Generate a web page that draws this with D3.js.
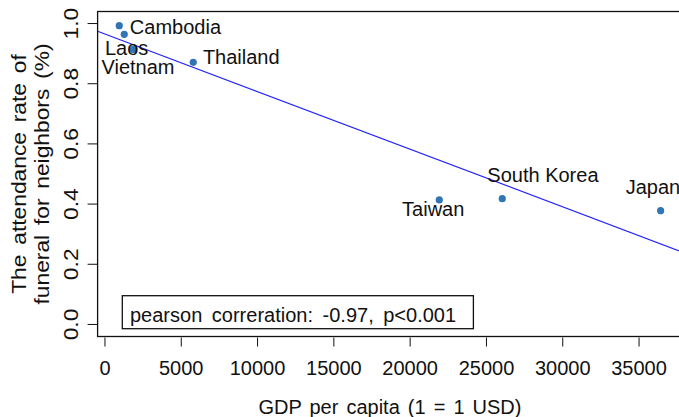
<!DOCTYPE html>
<html>
<head>
<meta charset="utf-8">
<script src="https://cdn.jsdelivr.net/npm/d3@7"></script>
<style>
  body { margin: 0; background: #fff; }
  svg text { font-family: "Liberation Sans", Arial, sans-serif; fill: #111; }
</style>
</head>
<body>
<svg id="chart" width="679" height="417"></svg>
<script>
// data
const countries = ["Cambodia", "Laos", "Vietnam", "Thailand", "Taiwan", "South Korea", "Japan"];
const gdp = [937, 1265, 1855, 5786, 21907, 26035, 36415];
const attendance = [0.993, 0.964, 0.914, 0.871, 0.414, 0.418, 0.378];
// where each label sits, in data units (text centre)
const labelGdp = [4620, 1422, 2163, 8932, 21514, 28702, 35911];
const labelRate = [0.988, 0.921, 0.856, 0.891, 0.386, 0.498, 0.459];
const xTicks = [0, 5000, 10000, 15000, 20000, 25000, 30000, 35000];
const yTicks = [0, 0.2, 0.4, 0.6, 0.8, 1.0];
const corrText = "pearson correration: -0.97, p<0.001";

(function () {
    const svg = d3.select("#chart");
    const pLeft = 97.6, pRight = 682.3, pTop = 11.5, pBottom = 336.5;
    // rotated text in the picture comes out a bit longer than flat text
    const stretch = 1.14;

    // R style: data range padded by 4% on each side
    const gMin = d3.min(gdp), gMax = d3.max(gdp);
    const pad = (gMax - gMin) * 0.04;
    const x = d3.scaleLinear().domain([gMin - pad, gMax + pad]).range([pLeft, pRight]);
    const y = d3.scaleLinear().domain([-0.04, 1.04]).range([pBottom, pTop]);

    // least squares fit
    const mx = d3.mean(gdp), my = d3.mean(attendance);
    const sxy = d3.sum(gdp, (d, i) => (d - mx) * (attendance[i] - my));
    const sxx = d3.sum(gdp, d => (d - mx) * (d - mx));
    const slope = sxy / sxx;
    const icpt = my - slope * mx;

    svg.append("clipPath").attr("id", "plotclip")
        .append("rect")
        .attr("x", pLeft).attr("y", pTop)
        .attr("width", pRight - pLeft).attr("height", pBottom - pTop);

    const xd = x.domain();
    svg.append("line")
        .attr("clip-path", "url(#plotclip)")
        .attr("x1", x(xd[0])).attr("y1", y(icpt + slope * xd[0]))
        .attr("x2", x(xd[1])).attr("y2", y(icpt + slope * xd[1]))
        .attr("stroke", "#2222ff").attr("stroke-width", 1.2);

    svg.selectAll("circle.pt")
        .data(countries)
        .enter()
        .append("circle").attr("class", "pt")
        .attr("cx", (d, i) => x(gdp[i]))
        .attr("cy", (d, i) => y(attendance[i]))
        .attr("r", 3.6)
        .attr("fill", "#3275b5");

    svg.selectAll("text.lab")
        .data(countries)
        .enter()
        .append("text").attr("class", "lab")
        .attr("x", (d, i) => x(labelGdp[i]))
        .attr("y", (d, i) => y(labelRate[i]))
        .attr("dy", "0.36em")
        .attr("text-anchor", "middle")
        .style("font-size", "20px")
        .text(d => d);

    // frame
    svg.append("rect")
        .attr("x", pLeft).attr("y", pTop)
        .attr("width", pRight - pLeft).attr("height", pBottom - pTop)
        .attr("fill", "none").attr("stroke", "#111").attr("stroke-width", 1.3);

    // x ticks
    svg.selectAll("line.xt").data(xTicks).enter()
        .append("line").attr("class", "xt")
        .attr("x1", d => x(d)).attr("x2", d => x(d))
        .attr("y1", pBottom + 1).attr("y2", pBottom + 10)
        .attr("stroke", "#111");
    svg.selectAll("text.xt").data(xTicks).enter()
        .append("text").attr("class", "xt")
        .attr("x", d => x(d)).attr("y", 375)
        .attr("text-anchor", "middle")
        .style("font-size", "20px")
        .text(d => d);

    // y ticks
    svg.selectAll("line.yt").data(yTicks).enter()
        .append("line").attr("class", "yt")
        .attr("x1", pLeft - 10).attr("x2", pLeft)
        .attr("y1", d => y(d)).attr("y2", d => y(d))
        .attr("stroke", "#111");
    svg.selectAll("text.yt").data(yTicks).enter()
        .append("text").attr("class", "yt")
        .attr("transform", d => "translate(78," + y(d) + ") rotate(-90) scale(" + stretch + ",1)")
        .attr("text-anchor", "middle")
        .style("font-size", "20px")
        .text(d => d3.format(".1f")(d));

    // axis titles
    svg.append("text")
        .attr("x", (pLeft + pRight) / 2).attr("y", 414)
        .attr("text-anchor", "middle")
        .style("font-size", "20px").style("word-spacing", "2.5px")
        .text("GDP per capita (1 = 1 USD)");

    const cy = (pTop + pBottom) / 2;
    svg.append("text")
        .attr("transform", "translate(26," + cy + ") rotate(-90) scale(" + stretch + ",1)")
        .attr("text-anchor", "middle")
        .style("font-size", "20px").style("word-spacing", "3px")
        .text("The attendance rate of");
    svg.append("text")
        .attr("transform", "translate(49," + cy + ") rotate(-90) scale(" + stretch + ",1)")
        .attr("text-anchor", "middle")
        .style("font-size", "20px").style("word-spacing", "3px")
        .text("funeral for neighbors (%)");

    // correlation box, bottom left of the plot
    const legend = svg.append("g");
    const lt = legend.append("text")
        .attr("x", pLeft + 32.4).attr("y", pBottom - 14.8)
        .style("font-size", "20px").style("word-spacing", "4px")
        .text(corrText);
    const bb = lt.node().getBBox();
    legend.insert("rect", "text")
        .attr("x", pLeft + 24.7).attr("y", pBottom - 40.8)
        .attr("width", bb.width + 25).attr("height", 33)
        .attr("fill", "#fff").attr("stroke", "#111").attr("stroke-width", 1.3);
})();
</script>
</body>
</html>
